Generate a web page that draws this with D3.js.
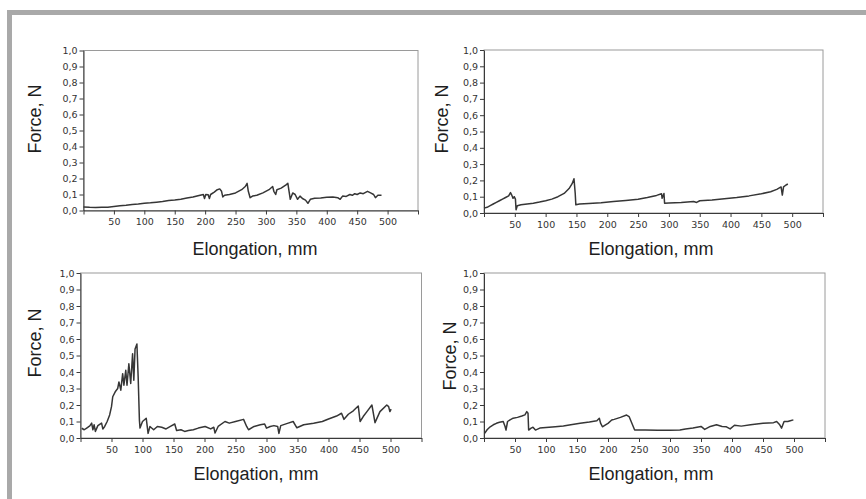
<!DOCTYPE html>
<html>
  <head>
    <meta charset="UTF-8" />
    <script src="https://cdnjs.cloudflare.com/ajax/libs/d3/7.8.5/d3.min.js"></script>
    <style>
      body { margin: 0; background: #fff; }
      text { font-family: "DejaVu Sans", sans-serif; fill: #333; }
      .title { font-family: "Liberation Sans", Arial, sans-serif; font-size: 18px; fill: #1e1e1e; }
      .tick text { font-size: 9.5px; }
      .tick line, path.domain { stroke: #3a3a3a; }
    </style>
  </head>
  <body>
    <svg id="viz" width="866" height="499"></svg>
    <script>
      // tick labels
      let xTicks = [0, 50, 100, 150, 200, 250, 300, 350, 400, 450, 500, 550];
      let yTicks = [0, 0.1, 0.2, 0.3, 0.4, 0.5, 0.6, 0.7, 0.8, 0.9, 1.0];

      // [elongation mm, force N]
      let curveA = [[0,0.022],[10,0.02],[20,0.019],[30,0.02],[40,0.021],[50,0.025],[60,0.029],[70,0.033],[80,0.038],
        [90,0.041],[100,0.045],[110,0.048],[120,0.052],[130,0.056],[140,0.062],[150,0.066],[160,0.071],[170,0.078],
        [180,0.085],[190,0.094],[197,0.1],[199,0.075],[201,0.1],[205,0.098],[207,0.075],[209,0.1],[215,0.115],
        [220,0.13],[224,0.135],[227,0.12],[229,0.085],[232,0.095],[240,0.1],[250,0.11],[260,0.13],[266,0.15],
        [269,0.17],[271,0.12],[274,0.08],[278,0.09],[285,0.095],[295,0.11],[305,0.13],[311,0.15],[313,0.12],
        [316,0.1],[318,0.13],[325,0.14],[333,0.16],[336,0.17],[338,0.12],[340,0.07],[344,0.11],[348,0.1],
        [352,0.07],[356,0.09],[360,0.075],[365,0.065],[369,0.045],[373,0.07],[380,0.077],[390,0.078],[400,0.083],
        [410,0.085],[418,0.08],[422,0.07],[426,0.09],[432,0.088],[438,0.1],[442,0.095],[446,0.105],[450,0.1],
        [455,0.11],[460,0.105],[467,0.12],[472,0.11],[477,0.1],[480,0.08],[484,0.095],[490,0.095]];

      let curveB = [[0,0.03],[5,0.035],[10,0.045],[15,0.055],[20,0.065],[25,0.075],[30,0.085],[35,0.095],[40,0.105],
        [43,0.125],[45,0.11],[47,0.09],[49,0.1],[51,0.085],[52,0.02],[54,0.045],[60,0.05],[70,0.055],[80,0.06],
        [90,0.067],[100,0.075],[110,0.085],[120,0.1],[130,0.12],[138,0.15],[143,0.18],[146,0.21],[148,0.12],
        [149,0.05],[155,0.055],[170,0.058],[190,0.063],[210,0.07],[230,0.077],[250,0.085],[265,0.095],[280,0.108],
        [288,0.118],[289,0.09],[292,0.12],[293,0.06],[300,0.062],[320,0.065],[340,0.07],[345,0.065],[350,0.075],
        [370,0.08],[390,0.088],[410,0.095],[430,0.105],[450,0.118],[465,0.13],[475,0.145],[482,0.16],[484,0.11],
        [486,0.16],[490,0.172],[493,0.178]];

      let curveC = [[2,0.059],[6,0.05],[10,0.06],[15,0.073],[18,0.09],[20,0.05],[22,0.08],[24,0.04],[28,0.075],
        [34,0.09],[36,0.055],[39,0.07],[43,0.1],[47,0.14],[50,0.19],[52,0.25],[56,0.28],[60,0.3],[62,0.34],
        [65,0.29],[68,0.39],[70,0.32],[73,0.41],[75,0.32],[78,0.45],[81,0.33],[84,0.51],[86,0.35],[88,0.54],
        [91,0.57],[93,0.37],[95,0.11],[96,0.06],[100,0.1],[106,0.12],[109,0.028],[112,0.07],[118,0.05],[124,0.07],
        [131,0.065],[138,0.055],[145,0.07],[152,0.085],[155,0.045],[162,0.05],[168,0.04],[174,0.045],[182,0.05],
        [190,0.06],[201,0.07],[210,0.055],[215,0.065],[217,0.03],[222,0.07],[233,0.1],[240,0.09],[250,0.1],
        [263,0.113],[268,0.07],[271,0.05],[280,0.07],[290,0.08],[297,0.085],[300,0.06],[306,0.07],[312,0.075],
        [318,0.07],[320,0.028],[323,0.075],[335,0.09],[343,0.1],[349,0.062],[360,0.08],[376,0.089],[390,0.1],
        [400,0.115],[413,0.133],[421,0.15],[425,0.113],[432,0.144],[440,0.165],[448,0.194],[451,0.1],[456,0.13],
        [462,0.16],[470,0.2],[475,0.093],[483,0.16],[494,0.2],[497,0.19],[499,0.16],[501,0.175]];

      let curveD = [[1,0.028],[5,0.05],[10,0.068],[15,0.08],[20,0.089],[25,0.095],[31,0.1],[34,0.07],[35.5,0.048],
        [38,0.1],[42,0.11],[47,0.12],[54,0.125],[61,0.133],[66,0.14],[69,0.16],[71,0.15],[72,0.048],[76,0.06],
        [79,0.065],[83,0.048],[90,0.06],[100,0.063],[115,0.068],[128,0.073],[140,0.08],[155,0.089],[170,0.097],
        [182,0.105],[186,0.12],[188,0.09],[191,0.068],[196,0.08],[200,0.089],[206,0.109],[210,0.113],[220,0.125],
        [230,0.139],[234,0.13],[243,0.048],[260,0.048],[280,0.047],[300,0.047],[316,0.048],[325,0.055],[337,0.06],
        [350,0.07],[356,0.052],[365,0.07],[375,0.08],[384,0.07],[391,0.068],[397,0.055],[404,0.077],[415,0.072],
        [430,0.08],[450,0.089],[467,0.093],[472,0.1],[477,0.08],[480,0.06],[484,0.1],[490,0.1],[494,0.105],[499,0.11]];

      // where each small chart sits on the page
      let panels = [
        { data: curveA, left: 83.5, right: 418, top: 50.5, bottom: 210.5, yTitle: [41, 119], xTitle: [255, 255] },
        { data: curveB, left: 484, right: 823, top: 50, bottom: 213, yTitle: [448, 119], xTitle: [651, 255] },
        { data: curveC, left: 80.5, right: 421.5, top: 273, bottom: 438, yTitle: [41, 343], xTitle: [256, 480] },
        { data: curveD, left: 484, right: 825, top: 273, bottom: 438, yTitle: [456, 356], xTitle: [651, 480] }
      ];

      let svg = d3.select("#viz");

      // grey frame along top and left edge
      svg.append("rect").attr("x", 7).attr("y", 10).attr("width", 859).attr("height", 5).attr("fill", "#a9a9a9");
      svg.append("rect").attr("x", 7).attr("y", 10).attr("width", 5).attr("height", 489).attr("fill", "#a9a9a9");

      let fmtY = d3.format(".1f");

      panels.forEach(p => {
        let xScale = d3.scaleLinear().domain([0, 550]).range([p.left, p.right]);
        let yScale = d3.scaleLinear().domain([0, 1]).range([p.bottom, p.top]);

        // plot area border
        svg.append("rect")
          .attr("x", p.left).attr("y", p.top)
          .attr("width", p.right - p.left).attr("height", p.bottom - p.top)
          .attr("fill", "none").attr("stroke", "#9a9a9a").attr("stroke-width", 1);

        svg.append("g")
          .attr("transform", `translate(0,${p.bottom})`)
          .call(d3.axisBottom(xScale).tickValues(xTicks).tickSizeInner(4).tickSizeOuter(0).tickPadding(4)
            .tickFormat(d => (d === 0 || d === 550 ? "" : d)));

        svg.append("g")
          .attr("transform", `translate(${p.left},0)`)
          .call(d3.axisLeft(yScale).tickValues(yTicks).tickSizeInner(4).tickSizeOuter(0).tickPadding(2)
            .tickFormat(d => fmtY(d).replace(".", ",")));

        let line = d3.line().x(d => xScale(d[0])).y(d => yScale(d[1]));

        svg.append("path")
          .datum(p.data)
          .attr("d", line)
          .attr("fill", "none")
          .attr("stroke", "#363636")
          .attr("stroke-width", 1.5)
          .attr("stroke-linejoin", "round");

        svg.append("text")
          .attr("class", "title")
          .attr("text-anchor", "middle")
          .attr("transform", `translate(${p.yTitle[0]},${p.yTitle[1]}) rotate(-90)`)
          .text("Force, N");

        svg.append("text")
          .attr("class", "title")
          .attr("text-anchor", "middle")
          .attr("x", p.xTitle[0]).attr("y", p.xTitle[1])
          .text("Elongation, mm");
      });
    </script>
  </body>
</html>
